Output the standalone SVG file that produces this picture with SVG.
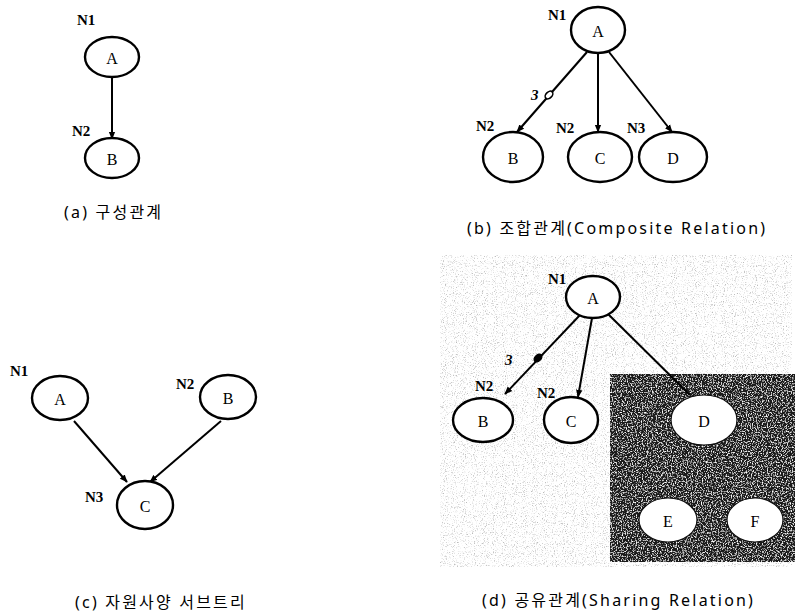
<svg xmlns="http://www.w3.org/2000/svg" width="795" height="612" viewBox="0 0 795 612">
  <style>
    .node { fill: #fff; stroke: #000; stroke-width: 2.4; }
    .inv { fill: #fff; stroke: #111; stroke-width: 1.2; }
    .lbl { font-family: "Liberation Serif", "DejaVu Serif", serif; font-size: 16px; text-anchor: middle; dominant-baseline: central; fill: #000; }
    .tag { font-family: "Liberation Serif", "DejaVu Serif", serif; font-size: 15px; font-weight: bold; fill: #000; }
    .card { font-family: "Liberation Serif", serif; font-size: 15px; font-weight: bold; font-style: italic; fill: #000; }
    .cap { font-family: "Noto Sans", "Noto Sans CJK KR", sans-serif; font-size: 16px; letter-spacing: 2.2px; fill: #000; }
    .edge { stroke: #000; stroke-width: 2; fill: none; }
  </style>
  <defs>
    <marker id="arr" viewBox="0 0 10 10" refX="9" refY="5" markerWidth="8" markerHeight="8" markerUnits="userSpaceOnUse" orient="auto">
      <path d="M0,1 L10,5 L0,9 z" fill="#000"/>
    </marker>
    <!-- sparse grey stipple -->
    <filter id="grain" x="0" y="0" width="100%" height="100%">
      <feTurbulence type="fractalNoise" baseFrequency="0.9" numOctaves="3" seed="4" result="n"/>
      <feColorMatrix in="n" type="matrix" values="0 0 0 0 0  0 0 0 0 0  0 0 0 0 0  0 0 0 -3.4 1.55" result="dots"/>
      <feComposite in="dots" in2="SourceGraphic" operator="in"/>
    </filter>
    <!-- dark field with light speckles -->
    <filter id="darkgrain" x="0" y="0" width="100%" height="100%">
      <feTurbulence type="fractalNoise" baseFrequency="0.8" numOctaves="2" seed="9" result="n"/>
      <feColorMatrix in="n" type="matrix" values="0 0 0 0 1  0 0 0 0 1  0 0 0 0 1  0 0 0 -3.5 1.75" result="spk"/>
      <feComposite in="spk" in2="SourceGraphic" operator="in" result="s"/>
      <feMerge><feMergeNode in="SourceGraphic"/><feMergeNode in="s"/></feMerge>
    </filter>
  </defs>

  <!-- (d) stippled backdrop and dark shared region -->
  <g id="backdrop-d">
    <rect x="440" y="255" width="352" height="312" fill="#808080" opacity="0.26" filter="url(#grain)"/>
    <rect x="610" y="374" width="185" height="188" fill="#1a1a1a" filter="url(#darkgrain)"/>
  </g>

  <g id="connectors">
    <!-- (a) -->
    <line class="edge" x1="112" y1="77" x2="112" y2="139" marker-end="url(#arr)"/>
    <!-- (b) -->
    <line class="edge" x1="587" y1="52" x2="517" y2="132" marker-end="url(#arr)"/>
    <line class="edge" x1="598" y1="54" x2="598" y2="132" marker-end="url(#arr)"/>
    <line class="edge" x1="609" y1="52" x2="672" y2="132" marker-end="url(#arr)"/>
    <ellipse cx="549" cy="95" rx="4.5" ry="3" transform="rotate(-45 549 95)" fill="#fff" stroke="#000" stroke-width="1.6"/>
    <!-- (c) -->
    <line class="edge" x1="74" y1="421" x2="127" y2="482" marker-end="url(#arr)"/>
    <line class="edge" x1="221" y1="421" x2="150" y2="482" marker-end="url(#arr)"/>
    <!-- (d) -->
    <line class="edge" x1="580" y1="315" x2="505" y2="394" marker-end="url(#arr)"/>
    <line class="edge" x1="592" y1="318" x2="578" y2="397" marker-end="url(#arr)"/>
    <line class="edge" x1="608" y1="314" x2="690" y2="395"/>
    <ellipse cx="538" cy="358" rx="4.5" ry="3" transform="rotate(-45 538 358)" fill="#000" stroke="#000" stroke-width="1.4"/>
  </g>

  <!-- (a) composition -->
  <g id="a-A"><ellipse class="node" cx="112" cy="57" rx="27" ry="20"/><text class="lbl" x="112" y="58">A</text></g>
  <g id="a-B"><ellipse class="node" cx="112" cy="158" rx="27" ry="20"/><text class="lbl" x="112" y="159">B</text></g>
  <text class="tag" x="77" y="25">N1</text>
  <text class="tag" x="72" y="136">N2</text>
  <text class="cap" x="64" y="218">(a) 구성관계</text>

  <!-- (b) composite relation -->
  <g id="b-A"><ellipse class="node" cx="598" cy="30" rx="27" ry="23"/><text class="lbl" x="598" y="31">A</text></g>
  <g id="b-B"><ellipse class="node" cx="513" cy="157" rx="30" ry="25"/><text class="lbl" x="513" y="158">B</text></g>
  <g id="b-C"><ellipse class="node" cx="600" cy="157" rx="32" ry="25"/><text class="lbl" x="600" y="158">C</text></g>
  <g id="b-D"><ellipse class="node" cx="673" cy="157" rx="34" ry="25"/><text class="lbl" x="673" y="158">D</text></g>
  <text class="tag" x="548" y="20">N1</text>
  <text class="tag" x="476" y="131">N2</text>
  <text class="tag" x="556" y="133">N2</text>
  <text class="tag" x="627" y="133">N3</text>
  <text class="card" x="531" y="100">3</text>
  <text class="cap" x="467" y="234">(b) 조합관계(Composite Relation)</text>

  <!-- (c) resource specification subtree -->
  <g id="c-A"><ellipse class="node" cx="60" cy="398" rx="28" ry="22"/><text class="lbl" x="60" y="399">A</text></g>
  <g id="c-B"><ellipse class="node" cx="228" cy="397" rx="28" ry="22"/><text class="lbl" x="228" y="398">B</text></g>
  <g id="c-C"><ellipse class="node" cx="145" cy="505" rx="28" ry="24"/><text class="lbl" x="145" y="506">C</text></g>
  <text class="tag" x="10" y="376">N1</text>
  <text class="tag" x="176" y="389">N2</text>
  <text class="tag" x="85" y="502">N3</text>
  <text class="cap" x="75" y="608">(c) 자원사양 서브트리</text>

  <!-- (d) sharing relation -->
  <g id="d-A"><ellipse class="node" cx="593" cy="297" rx="27" ry="21"/><text class="lbl" x="593" y="298">A</text></g>
  <g id="d-B"><ellipse class="node" cx="483" cy="420" rx="30" ry="22"/><text class="lbl" x="483" y="421">B</text></g>
  <g id="d-C"><ellipse class="node" cx="571" cy="420" rx="27" ry="23"/><text class="lbl" x="571" y="421">C</text></g>
  <g id="d-D"><ellipse class="inv" cx="704" cy="420" rx="33" ry="25"/><text class="lbl" x="704" y="421">D</text></g>
  <g id="d-E"><ellipse class="inv" cx="668" cy="520" rx="29" ry="22"/><text class="lbl" x="668" y="521">E</text></g>
  <g id="d-F"><ellipse class="inv" cx="755" cy="520" rx="28" ry="22"/><text class="lbl" x="755" y="521">F</text></g>
  <text class="tag" x="548" y="284">N1</text>
  <text class="tag" x="475" y="391">N2</text>
  <text class="tag" x="537" y="398">N2</text>
  <text class="card" x="505" y="365">3</text>
  <text class="cap" x="482" y="606">(d) 공유관계(Sharing Relation)</text>
</svg>
